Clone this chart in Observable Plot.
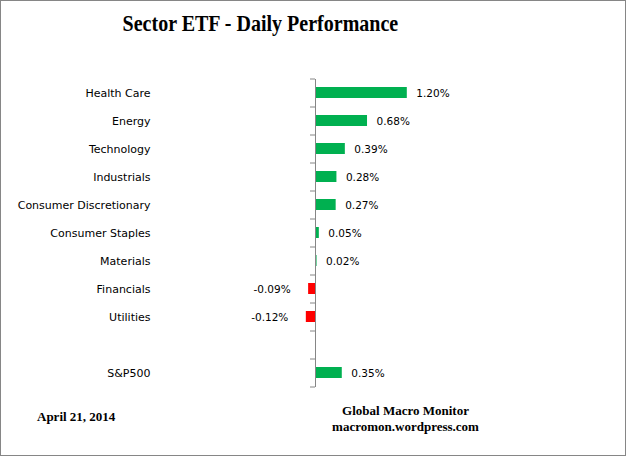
<!DOCTYPE html>
<html>
<head>
<meta charset="utf-8">
<script src="https://cdn.jsdelivr.net/npm/d3@7"></script>
<script src="https://cdn.jsdelivr.net/npm/@observablehq/plot@0.6"></script>
<style>
  html, body { margin: 0; padding: 0; background: #fff; }
  #wrap { position: relative; width: 626px; height: 456px; overflow: hidden; background: #fff; }
  #frame { position: absolute; left: 0; top: 0; width: 626px; height: 456px; box-sizing: border-box; border: 1px solid #868686; pointer-events: none; }
  .serif { font-family: "Liberation Serif", "Times New Roman", serif; font-weight: bold; color: #000; position: absolute; white-space: nowrap; }
  #title { left: 0; width: 521px; top: 11px; font-size: 23px; line-height: 26px; text-align: center; }
  #title span { display: inline-block; transform: scaleX(0.87); transform-origin: center; }
  #date { left: 37px; top: 409px; font-size: 13px; line-height: 15px; }
  #src { left: 305px; width: 201px; top: 403px; font-size: 13px; line-height: 16px; text-align: center; }
  #chart { position: absolute; left: 0; top: 60px; }
</style>
</head>
<body>
<div id="wrap">
  <div id="title" class="serif"><span>Sector ETF - Daily Performance</span></div>
  <div id="chart"></div>
  <div id="date" class="serif">April 21, 2014</div>
  <div id="src" class="serif">Global Macro Monitor<br>macromon.wordpress.com</div>
  <div id="frame"></div>
</div>
<script>
const categories = ["Health Care", "Energy", "Technology", "Industrials", "Consumer Discretionary", "Consumer Staples", "Materials", "Financials", "Utilities", "", "S&P500"];
const values = [1.20, 0.68, 0.39, 0.28, 0.27, 0.05, 0.02, -0.09, -0.12, null, 0.35];

const green = "#00B050";
const red = "#FF0000";
const axisGrey = "#868686";

const rows = categories.map((name, i) => ({name, value: values[i]})).filter(d => d.value != null);
const fmt = d => d.value.toFixed(2) + "%";

const chart = Plot.plot({
  width: 626,
  height: 340,
  marginLeft: 150,
  marginRight: 20,
  marginTop: 19,
  marginBottom: 13,
  style: {fontFamily: "DejaVu Sans", fontSize: "11px", color: "#000", background: "transparent"},
  x: {domain: [-2.157, 3.804], axis: null},
  y: {domain: categories, paddingInner: 0.6, paddingOuter: 0.3, tickSize: 0, tickPadding: 0, label: null},
  marks: [
    Plot.barX(rows, {x: "value", y: "name", fill: d => d.value >= 0 ? green : red}),
    Plot.ruleX([0], {stroke: axisGrey, strokeWidth: 1}),
    Plot.ruleY(categories, {y: d => d, x1: 0, x2: 0, insetLeft: -5, dy: -14, stroke: axisGrey}),
    Plot.ruleY(categories.slice(-1), {y: d => d, x1: 0, x2: 0, insetLeft: -5, dy: 14, stroke: axisGrey}),
    Plot.text(rows.filter(d => d.value >= 0), {x: "value", y: "name", text: fmt, textAnchor: "start", dx: 9, dy: 1, fontSize: 10.5, fill: "#000"}),
    Plot.text(rows.filter(d => d.value < 0), {x: "value", y: "name", text: fmt, textAnchor: "end", dx: -18, dy: 1, fontSize: 10.5, fill: "#000"})
  ]
});
document.getElementById("chart").appendChild(chart);
</script>
</body>
</html>
